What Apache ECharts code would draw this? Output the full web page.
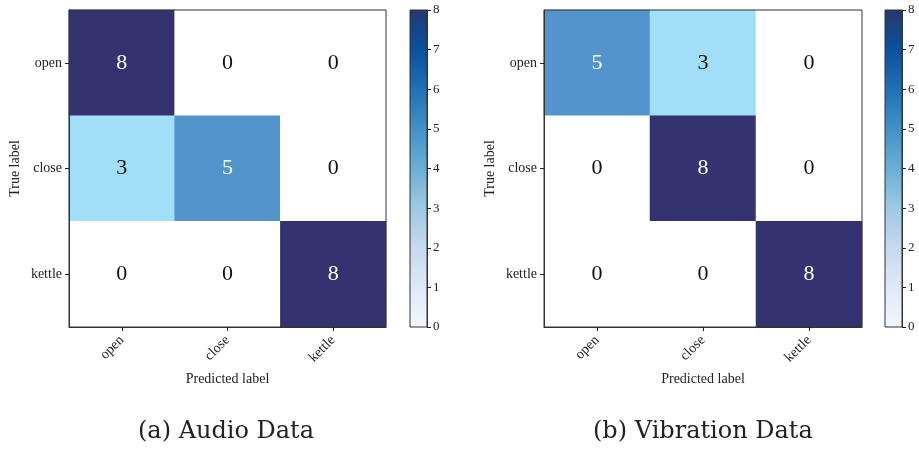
<!DOCTYPE html>
<html>
<head>
<meta charset="utf-8">
<script src="https://cdn.jsdelivr.net/npm/echarts@6/dist/echarts.min.js"></script>
<style>
html,body{margin:0;padding:0;background:#fff;}
#c{width:919px;height:450px;}
</style>
</head>
<body>
<div id="c"></div>
<script>
// ---- data ----
const predictedLabels = ['open', 'close', 'kettle'];
const trueLabels = ['open', 'close', 'kettle'];
// rows = true label, columns = predicted label
const audioMatrix = [
  [8, 0, 0],
  [3, 5, 0],
  [0, 0, 8]
];
const vibrationMatrix = [
  [5, 3, 0],
  [0, 8, 0],
  [0, 0, 8]
];
const colorbarTicks = [0, 1, 2, 3, 4, 5, 6, 7, 8];
const colorbarMax = 8;
const captions = ['(a) Audio Data', '(b) Vibration Data'];

// ---- build ----
function toCells(m) {
  const out = [];
  m.forEach((row, r) => row.forEach((v, c) => {
    out.push({ value: [c, r, v], label: { color: v > 4 ? '#ffffff' : '#111111' } });
  }));
  return out;
}

const FONT = 'Liberation Serif';
const txt = '#222';
const frame = '#333333';

const heatGrids = [
  { left: 69, top: 10, width: 317, height: 317 },
  { left: 544, top: 10, width: 318, height: 317 }
];
const barGrids = [
  { left: 410, top: 10, width: 17, height: 317 },
  { left: 885, top: 10, width: 17, height: 317 }
];

const grid = [];
const xAxis = [];
const yAxis = [];
heatGrids.concat(barGrids).forEach((g) => {
  grid.push(Object.assign({ show: true, z: 5, borderColor: frame, borderWidth: 1, backgroundColor: 'transparent' }, g));
});

[0, 1].forEach((i) => {
  xAxis.push({
    type: 'category', gridIndex: i, data: predictedLabels, z: 6,
    name: 'Predicted label', nameLocation: 'middle', nameGap: 44,
    nameTextStyle: { fontFamily: FONT, fontSize: 14, color: txt },
    axisLine: { show: true, lineStyle: { color: frame } },
    axisTick: { show: true, alignWithLabel: true, length: 4, lineStyle: { color: '#222' } },
    axisLabel: { rotate: 45, fontFamily: FONT, fontSize: 14, color: txt, margin: 11 },
    splitLine: { show: false }
  });
  yAxis.push({
    type: 'category', gridIndex: i, data: trueLabels, inverse: true, z: 6,
    name: 'True label', nameLocation: 'middle', nameGap: 47,
    nameTextStyle: { fontFamily: FONT, fontSize: 14, color: txt },
    axisLine: { show: true, lineStyle: { color: frame } },
    axisTick: { show: true, alignWithLabel: true, length: 4, lineStyle: { color: '#222' } },
    axisLabel: { fontFamily: FONT, fontSize: 14, color: txt, margin: 7 },
    splitLine: { show: false }
  });
});
[2, 3].forEach((i) => {
  xAxis.push({ type: 'category', gridIndex: i, data: ['cb'], show: false });
  yAxis.push({
    type: 'value', gridIndex: i, min: 0, max: colorbarMax, interval: 1, position: 'right', z: 6,
    axisLine: { show: true, lineStyle: { color: frame } },
    axisTick: { show: true, length: 4, inside: false, lineStyle: { color: '#222', width: 1 } },
    axisLabel: { fontFamily: FONT, fontSize: 13, color: txt, margin: 6,
      formatter: (v) => colorbarTicks.includes(v) ? String(v) : '' },
    splitLine: { show: false }
  });
});

const blues = new echarts.graphic.LinearGradient(0, 1, 0, 0, [
  { offset: 0.000, color: '#f2f7fd' },
  { offset: 0.125, color: '#dfe9f7' },
  { offset: 0.250, color: '#c6d9ef' },
  { offset: 0.375, color: '#9ecae1' },
  { offset: 0.500, color: '#6aaed6' },
  { offset: 0.625, color: '#4292c6' },
  { offset: 0.750, color: '#2171b5' },
  { offset: 0.875, color: '#0b519c' },
  { offset: 1.000, color: '#233a70' }
]);

const series = [];
[audioMatrix, vibrationMatrix].forEach((m, i) => {
  series.push({
    type: 'heatmap', xAxisIndex: i, yAxisIndex: i, z: 2,
    data: toCells(m),
    label: { show: true, fontFamily: FONT, fontSize: 22 },
    itemStyle: { borderWidth: 0 },
    emphasis: { disabled: true }
  });
});
[2, 3].forEach((i) => {
  series.push({
    type: 'bar', xAxisIndex: i, yAxisIndex: i, z: 2,
    data: [colorbarMax], barWidth: '100%', barCategoryGap: 0,
    itemStyle: { color: blues }, silent: true
  });
});

const option = {
  backgroundColor: '#fff',
  animation: false,
  grid, xAxis, yAxis, series,
  visualMap: [{
    type: 'piecewise', show: false, seriesIndex: [0, 1], dimension: 2,
    pieces: [
      { value: 0, color: '#ffffff' },
      { value: 3, color: '#a0dff7' },
      { value: 5, color: '#5394cd' },
      { value: 8, color: '#35336f' }
    ]
  }],
  graphic: [
    { type: 'text', left: 138, top: 420, style: { text: captions[0], fontFamily: 'DejaVu Serif', fontSize: 24, fill: '#222' } },
    { type: 'text', left: 593, top: 420, style: { text: captions[1], fontFamily: 'DejaVu Serif', fontSize: 24, fill: '#222' } }
  ]
};

const chart = echarts.init(document.getElementById('c'), null, { renderer: 'canvas' });
chart.setOption(option);
</script>
</body>
</html>
